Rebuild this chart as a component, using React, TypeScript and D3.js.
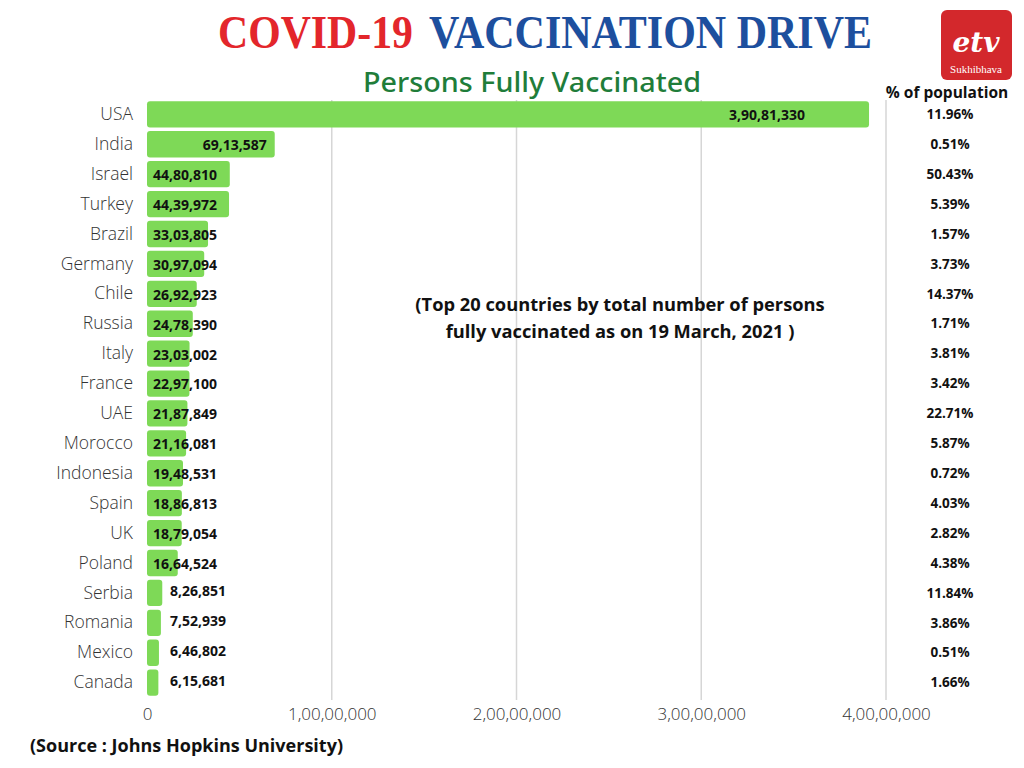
import { useEffect, useRef } from "react";
import * as d3 from "d3";

const countries = [
  "USA", "India", "Israel", "Turkey", "Brazil", "Germany", "Chile", "Russia", "Italy", "France",
  "UAE", "Morocco", "Indonesia", "Spain", "UK", "Poland", "Serbia", "Romania", "Mexico", "Canada",
];
const vaccinated = [
  39081330, 6913587, 4480810, 4439972, 3303805, 3097094, 2692923, 2478390, 2303002, 2297100,
  2187849, 2116081, 1948531, 1886813, 1879054, 1664524, 826851, 752939, 646802, 615681,
];
const percentOfPopulation = [
  "11.96%", "0.51%", "50.43%", "5.39%", "1.57%", "3.73%", "14.37%", "1.71%", "3.81%", "3.42%",
  "22.71%", "5.87%", "0.72%", "4.03%", "2.82%", "4.38%", "11.84%", "3.86%", "0.51%", "1.66%",
];
const xTicks = [0, 10000000, 20000000, 30000000, 40000000];

// Indian digit grouping: 1,00,00,000
function inr(n: number) {
  const s = String(Math.round(n));
  if (s.length <= 3) return s;
  const last3 = s.slice(-3);
  const rest = s.slice(0, -3).replace(/\B(?=(\d{2})+(?!\d))/g, ",");
  return rest + "," + last3;
}

function App() {
  const svgRef = useRef<SVGSVGElement>(null);

  useEffect(() => {
    const svgElement = svgRef.current;
    if (!svgElement) return;
    const svg = d3.select(svgElement);
    const font = "'Open Sans', sans-serif";

    const data = countries.map((c, i) => ({ label: c, value: vaccinated[i], pct: percentOfPopulation[i] }));

    const left = 147;
    const top = 100;
    const bottom = 697;

    const x = d3.scaleLinear().domain([0, 40000000]).range([left, 886]);
    const y = d3.scaleBand().domain(countries).range([top, bottom]).paddingInner(0.12).paddingOuter(0.04);

    // title
    svg.append("text").attr("x", 218).attr("y", 48).attr("textLength", 195).attr("lengthAdjust", "spacingAndGlyphs")
      .style("font-family", "'Liberation Serif', serif").style("font-weight", "bold").style("font-size", "47px")
      .attr("fill", "#e3262b").text("COVID-19");
    svg.append("text").attr("x", 429).attr("y", 48).attr("textLength", 443).attr("lengthAdjust", "spacingAndGlyphs")
      .style("font-family", "'Liberation Serif', serif").style("font-weight", "bold").style("font-size", "47px")
      .attr("fill", "#1d4f9e").text("VACCINATION DRIVE");

    svg.append("text").attr("x", 363).attr("y", 92).attr("textLength", 338).attr("lengthAdjust", "spacingAndGlyphs")
      .style("font-family", "'Noto Sans', sans-serif").style("font-weight", 500).style("font-size", "27px")
      .attr("fill", "#1f7d3a").text("Persons Fully Vaccinated");

    // logo
    const logo = svg.append("g");
    logo.append("rect").attr("x", 941).attr("y", 10).attr("width", 71).attr("height", 70).attr("rx", 6).attr("fill", "#d3282c");
    logo.append("text").attr("x", 976).attr("y", 52).attr("text-anchor", "middle")
      .style("font-family", "'DejaVu Serif', serif").style("font-style", "italic").style("font-weight", "bold")
      .style("font-size", "28px").attr("fill", "#fff").text("etv");
    logo.append("text").attr("x", 976).attr("y", 73).attr("text-anchor", "middle")
      .style("font-family", "'Liberation Serif', serif").style("font-size", "11px").attr("fill", "#fff").text("Sukhibhava");

    svg.append("text").attr("x", 947).attr("y", 98).attr("text-anchor", "middle")
      .style("font-family", font).style("font-weight", "bold").style("font-size", "15.5px").attr("fill", "#111")
      .text("% of population");

    // gridlines
    svg.append("g").selectAll("line").data(xTicks.slice(1)).enter().append("line")
      .attr("x1", (d) => x(d)).attr("x2", (d) => x(d)).attr("y1", top).attr("y2", 700)
      .attr("stroke", "#d6d6d6").attr("stroke-width", 1.5);

    // bars
    svg.append("g").selectAll("rect").data(data).enter().append("rect")
      .attr("x", x(0)).attr("y", (d) => y(d.label) || 0)
      .attr("width", (d) => x(d.value) - x(0)).attr("height", y.bandwidth())
      .attr("rx", 3).attr("fill", "#7ed957");

    // value labels
    svg.append("g").selectAll("text").data(data).enter().append("text")
      .attr("x", (d, i) => (d.value >= 5000000 ? x(d.value) - (i === 0 ? 64 : 8) : d.value >= 1000000 ? x(0) + 6 : x(0) + 23))
      .attr("y", (d) => (y(d.label) || 0) + y.bandwidth() / 2 + (d.value < 1000000 ? -2 : 1))
      .attr("dy", "0.35em")
      .attr("text-anchor", (d) => (d.value >= 5000000 ? "end" : "start"))
      .style("font-family", font).style("font-weight", "bold").style("font-size", "14px").attr("fill", "#111")
      .text((d) => inr(d.value));

    // category axis
    const yAxis = svg.append("g").attr("transform", `translate(${left},0)`)
      .call(d3.axisLeft(y).tickSize(0).tickPadding(14));
    yAxis.select(".domain").remove();
    yAxis.selectAll("text").style("font-family", font).style("font-size", "17.5px").style("font-weight", 300).attr("fill", "#333");

    // value axis
    const xAxis = svg.append("g").attr("transform", `translate(0,${bottom})`)
      .call(d3.axisBottom(x).tickValues(xTicks).tickSize(0).tickPadding(11).tickFormat((d) => inr(+d)));
    xAxis.select(".domain").remove();
    xAxis.selectAll("text").style("font-family", font).style("font-size", "17px").style("font-weight", 300).attr("fill", "#333");

    // percentages
    svg.append("g").selectAll("text").data(data).enter().append("text")
      .attr("x", 950).attr("y", (d) => (y(d.label) || 0) + y.bandwidth() / 2).attr("dy", "0.35em")
      .attr("text-anchor", "middle")
      .style("font-family", font).style("font-weight", "bold").style("font-size", "13.5px").attr("fill", "#111")
      .text((d) => d.pct);

    // note
    const note = svg.append("text").attr("text-anchor", "middle")
      .style("font-family", font).style("font-weight", "bold").style("font-size", "18.3px").attr("fill", "#111");
    note.append("tspan").attr("x", 620).attr("y", 311).text("(Top 20 countries by total number of persons");
    note.append("tspan").attr("x", 620).attr("y", 338).text("fully vaccinated as on 19 March, 2021 )");

    svg.append("text").attr("x", 30).attr("y", 752).attr("textLength", 313).attr("lengthAdjust", "spacingAndGlyphs")
      .style("font-family", font).style("font-weight", "bold").style("font-size", "17px").attr("fill", "#111")
      .text("(Source : Johns Hopkins University)");

    return () => {
      d3.select(svgElement).selectAll("*").remove();
    };
  }, []);

  return (
    <svg
      ref={svgRef}
      width={1024}
      height={768}
      style={{ position: "absolute", left: 0, top: 0, background: "#fff" }}
    ></svg>
  );
}

export default App;
